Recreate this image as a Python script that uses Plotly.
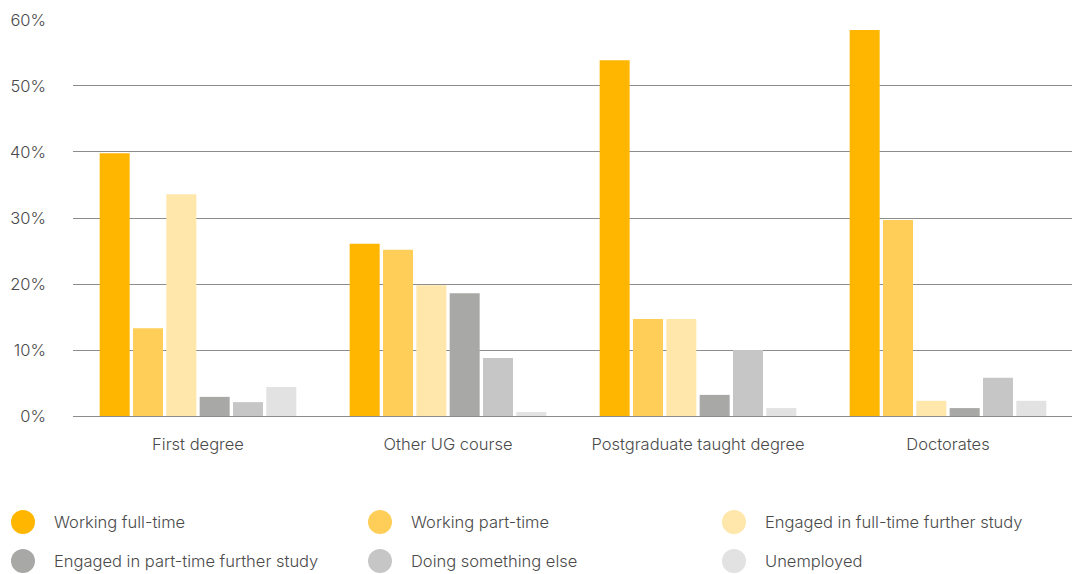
import plotly.graph_objects as go

categories = ["First degree", "Other UG course", "Postgraduate taught degree", "Doctorates"]
series_names = [
    "Working full-time",
    "Working part-time",
    "Engaged in full-time further study",
    "Engaged in part-time further study",
    "Doing something else",
    "Unemployed",
]
working_full_time = [39.8, 26.1, 53.9, 58.5]
working_part_time = [13.3, 25.2, 14.7, 29.7]
ft_further_study = [33.6, 19.8, 14.7, 2.3]
pt_further_study = [2.9, 18.6, 3.2, 1.2]
something_else = [2.1, 8.8, 10.0, 5.8]
unemployed = [4.4, 0.6, 1.2, 2.3]
tick_values = [0, 10, 20, 30, 40, 50, 60]
tick_labels = ["0%", "10%", "20%", "30%", "40%", "50%", "60%"]

series_values = [working_full_time, working_part_time, ft_further_study,
                 pt_further_study, something_else, unemployed]
colors = ["#FFB600", "#FFCE58", "#FFE6AA", "#A8A8A7", "#C6C6C6", "#E2E2E2"]

FONT = "Inter"
WEIGHT = 300
SIZE = 16.5
TEXT_COLOR = "#4a4a4a"

# page body has an 8px margin; work in window pixels and subtract it
OFF = 8
W, H = 1080 - OFF, 574 - OFF
PLOT_X0, PLOT_X1, PLOT_Y0, PLOT_Y1 = 73, 1073, 19, 416  # window pixels
L = PLOT_X0 - OFF
R = W - (PLOT_X1 - OFF)
T = PLOT_Y0 - OFF
B = H - (PLOT_Y1 - OFF)
PW, PH = W - L - R, H - T - B


def px_x(px):
    return (px - OFF - L) / PW


def px_y(py):
    return (H - B - (py - OFF)) / PH


fig = go.Figure()
for name, vals, col in zip(series_names, series_values, colors):
    fig.add_trace(go.Bar(x=categories, y=vals, name=name, marker_color=col,
                         marker_line_width=0, showlegend=False))

# custom legend (circles + labels)
col_circle_x = [23, 380, 734]
col_text_x = [52, 409, 763]
row_y = [522, 561]
shapes = []
annotations = []
r = 12
for i, (name, col) in enumerate(zip(series_names, colors)):
    row, c = divmod(i, 3)
    cx, cy = col_circle_x[c], row_y[row]
    shapes.append(dict(type="circle", xref="paper", yref="paper",
                       x0=px_x(cx - r), x1=px_x(cx + r),
                       y0=px_y(cy + r), y1=px_y(cy - r),
                       fillcolor=col, line_width=0))
    annotations.append(dict(text=name, xref="paper", yref="paper",
                            x=px_x(col_text_x[c]), y=px_y(cy),
                            xanchor="left", yanchor="middle", showarrow=False,
                            font=dict(family=FONT, size=SIZE, color=TEXT_COLOR, weight=WEIGHT)))

fig.update_layout(
    width=W, height=H,
    margin=dict(l=L, r=R, t=T, b=B),
    plot_bgcolor="white", paper_bgcolor="white",
    barmode="group", bargap=0.2, bargroupgap=0.1,
    shapes=shapes, annotations=annotations,
    showlegend=False,
    font=dict(family=FONT, size=SIZE, color=TEXT_COLOR, weight=WEIGHT),
)
fig.update_xaxes(showgrid=False, showline=False, zeroline=False, automargin=False,
                 ticks="", ticklabelstandoff=16,
                 tickfont=dict(family=FONT, size=SIZE, color=TEXT_COLOR, weight=WEIGHT))
fig.update_yaxes(range=[0, 60.15], tickvals=tick_values, ticktext=tick_labels,
                 automargin=False,
                 showgrid=True, gridcolor="#8C8C8C", gridwidth=1.2,
                 zeroline=True, zerolinecolor="#8C8C8C", zerolinewidth=1.2,
                 showline=False, ticks="", ticklabelstandoff=26,
                 tickfont=dict(family=FONT, size=SIZE, color=TEXT_COLOR, weight=WEIGHT))

fig.write_html("out.html")
